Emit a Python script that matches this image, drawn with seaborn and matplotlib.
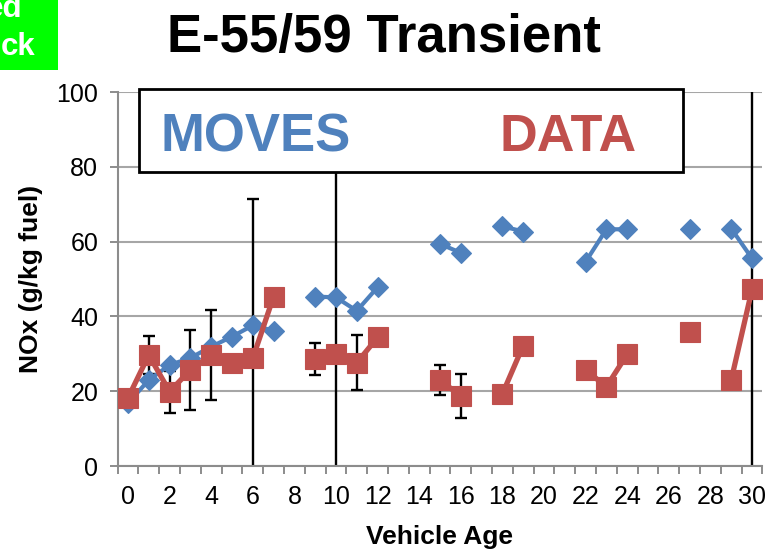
import numpy as np
import pandas as pd
import matplotlib
matplotlib.use("Agg")
import matplotlib.pyplot as plt
from matplotlib.patches import Rectangle
from matplotlib.ticker import FixedLocator
import seaborn as sns

# ---- data ----
ages = [0, 1, 2, 3, 4, 5, 6, 7, 9, 10, 11, 12, 15, 16, 18, 19, 22, 23, 24, 27, 29, 30]
moves = [16.8, 23.0, 27.0, 28.9, 31.9, 34.6, 37.6, 36.2, 45.3, 45.1, 41.5, 47.8,
         59.4, 57.0, 64.1, 62.7, 54.6, 63.3, 63.3, 63.5, 63.5, 55.5]
data = [18.2, 29.7, 19.9, 25.7, 29.7, 27.5, 28.8, 45.3, 28.6, 29.9, 27.6, 34.4,
        23.0, 18.7, 19.3, 32.2, 25.7, 21.2, 29.9, 35.9, 23.0, 47.2]
data_err = [np.nan, 5.1, 5.6, 10.6, 12.0, np.nan, 42.5, np.nan, 4.3, 60.0, 7.4, np.nan,
            4.1, 5.8, np.nan, np.nan, np.nan, np.nan, np.nan, np.nan, np.nan, 55.0]
x_ticks = list(range(0, 31, 2))
y_ticks = [0, 20, 40, 60, 80, 100]
title = "E-55/59 Transient"
series_names = ["MOVES", "DATA"]

BLUE = "#4F81BD"
RED = "#C0504D"
GRID = "#A6A6A6"
SPINE = "#8C8C8C"

df = pd.DataFrame({"age": ages, "moves": moves, "data": data, "err": data_err})
# consecutive ages form one connected run
df["seg"] = (df["age"].diff().fillna(1) > 1).cumsum()

sns.set_style("white")
plt.rcParams["font.family"] = ["Liberation Sans", "DejaVu Sans"]
plt.rcParams["text.color"] = "black"
plt.rcParams["axes.labelcolor"] = "black"

fig = plt.figure(figsize=(7.73, 5.54), dpi=100)
ax = fig.add_axes([0.1521, 0.1588, 0.8342, 0.6751])

# error bars (behind series)
e = df.dropna(subset=["err"])
ax.errorbar(e["age"], e["data"], yerr=e["err"], fmt="none", ecolor="black",
            elinewidth=1.7, capsize=4, capthick=1.7, zorder=2)

sns.lineplot(data=df, x="age", y="moves", units="seg", estimator=None, sort=False,
             color=BLUE, lw=3, marker="D", markersize=10.3, markeredgecolor=BLUE,
             markeredgewidth=0.8, legend=False, ax=ax, zorder=3)
sns.lineplot(data=df, x="age", y="data", units="seg", estimator=None, sort=False,
             color=RED, lw=3.8, marker="s", markersize=13.8, markeredgecolor=RED,
             markeredgewidth=0.8, legend=False, ax=ax, zorder=4)

ax.set_xlim(-0.5, 30.5)
ax.set_ylim(0, 100)
ax.xaxis.set_major_locator(FixedLocator(x_ticks))
ax.xaxis.set_minor_locator(FixedLocator(np.arange(-0.5, 31, 1)))
ax.yaxis.set_major_locator(FixedLocator(y_ticks))
ax.set_xticklabels([str(t) for t in x_ticks])
ax.set_yticklabels([str(t) for t in y_ticks])
ax.tick_params(axis="x", which="major", length=0, pad=14, labelsize=18, labelcolor="black")
ax.tick_params(axis="x", which="minor", length=6, width=1.4, color=SPINE, direction="out", bottom=True)
ax.tick_params(axis="y", which="major", length=6, width=1.4, color=SPINE, direction="out",
               pad=8, labelsize=18, labelcolor="black", left=True)

ax.grid(axis="y", color=GRID, lw=1.5, zorder=0)
ax.set_axisbelow(True)
for s in ["top", "right"]:
    ax.spines[s].set_visible(False)
for s in ["left", "bottom"]:
    ax.spines[s].set_color(SPINE)
    ax.spines[s].set_linewidth(1.5)

ax.set_xlabel("Vehicle Age", fontsize=19, fontweight="bold", color="black")
ax.set_ylabel("NOx (g/kg fuel)", fontsize=19, fontweight="bold", color="black")
ax.xaxis.set_label_coords(0.5, -0.158)
ax.yaxis.set_label_coords(-0.116, 0.5)

# legend-like text box
box = Rectangle((0.0332, 0.786), 0.8437, 0.222, transform=ax.transAxes, facecolor="white",
                edgecolor="black", lw=2, zorder=10, clip_on=False)
ax.add_patch(box)
ax.text(0.0673, 0.842, series_names[0], transform=ax.transAxes, color=BLUE, fontsize=38,
        fontweight="bold", va="baseline", ha="left", zorder=11)
ax.text(0.593, 0.842, series_names[1], transform=ax.transAxes, color=RED, fontsize=37.5,
        fontweight="bold", va="baseline", ha="left", zorder=11)

fig.text(0.497, 1 - 52 / 554, title, fontsize=38, fontweight="bold", ha="center",
         va="baseline", color="black")

# green corner label (partly cut off at the edge, as in the reference)
fig.patches.append(Rectangle((0, 1 - 70 / 554), 58 / 773, 70 / 554, transform=fig.transFigure,
                             facecolor="#00FF00", edgecolor="none", zorder=0))
fig.text(22 / 773, 1 - 17 / 554, "ed", color="white", fontsize=22.5, fontweight="bold",
         ha="right", va="baseline")
fig.text(35 / 773, 1 - 55 / 554, "ck", color="white", fontsize=22.5, fontweight="bold",
         ha="right", va="baseline")

fig.savefig("out.png", dpi=100)
